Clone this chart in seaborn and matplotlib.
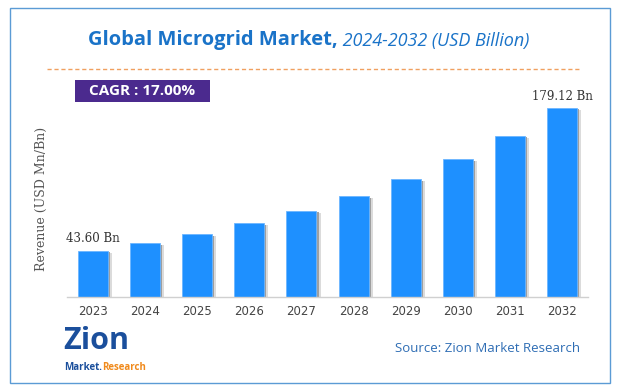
import matplotlib
matplotlib.use("Agg")
import matplotlib.pyplot as plt
import matplotlib.patheffects as pe
from matplotlib.patches import Rectangle
from matplotlib.lines import Line2D
import seaborn as sns

# data
years = ["2023", "2024", "2025", "2026", "2027", "2028", "2029", "2030", "2031", "2032"]
revenue = [43.60, 51.0, 59.6, 69.8, 81.6, 95.5, 111.7, 130.7, 153.1, 179.12]
labels = {0: "43.60 Bn", 9: "179.12 Bn"}

sns.set_style("white")
fig = plt.figure(figsize=(6.19, 3.92), dpi=100)
ax = fig.add_axes([0.1082, 0.2423, 0.8418, 0.5026])

sns.barplot(x=years, y=revenue, color="#1e90ff", saturation=1, width=0.575, ax=ax)

shadow = [pe.SimplePatchShadow(offset=(1.5, -1), shadow_rgbFace="#666666", alpha=0.6),
          pe.SimplePatchShadow(offset=(3, -1.5), shadow_rgbFace="#999999", alpha=0.35),
          pe.Normal()]
for bar in ax.patches:
    bar.set_path_effects(shadow)
    bar.set_edgecolor("#6cb6ff")
    bar.set_linewidth(0.6)

for i, txt in labels.items():
    ax.annotate(txt, (i, revenue[i]), xytext=(0, 4), textcoords="offset points",
                ha="center", va="bottom", family="DejaVu Serif", fontsize=8.5,
                color="#333333", annotation_clip=False)

ax.set_xlim(-0.5, 9.5)
ax.set_ylim(0, 186.8)
ax.set_yticks([])
ax.set_xlabel("")
ax.set_ylabel("Revenue (USD Mn/Bn)", family="DejaVu Serif", fontsize=9, color="#555555", labelpad=14)
ax.tick_params(axis="x", length=0, labelsize=8.5, labelcolor="#444444", pad=6)
for s in ["top", "right", "left"]:
    ax.spines[s].set_visible(False)
ax.spines["bottom"].set_color("#d0d0d0")
ax.spines["bottom"].set_linewidth(1)
ax.patch.set_alpha(0)

# frame around whole graphic
fig.patches.append(Rectangle((10 / 619, 1 - 383 / 392), 600 / 619, 375 / 392, transform=fig.transFigure,
                             fill=False, edgecolor="#5b9bd5", linewidth=1))

# title in two styles
t1 = fig.text(88 / 619, 1 - 40 / 392, "Global Microgrid Market,", family="Open Sans", fontweight="bold",
              fontsize=14.5, color="#1a73c8", ha="left", va="center")
ax.annotate(" 2024-2032 (USD Billion)", xy=(1, 0), xycoords=t1, ha="left", va="bottom",
            family="Open Sans", style="italic", fontsize=13, color="#1a73c8")

fig.lines.append(Line2D([47 / 619, 580 / 619], [1 - 69 / 392] * 2, transform=fig.transFigure,
                        color="#f0a060", linestyle=(0, (3, 2)), linewidth=1))

# CAGR box
fig.patches.append(Rectangle((75 / 619, 1 - 102 / 392), 135 / 619, 22 / 392, transform=fig.transFigure,
                             facecolor="#4b2a8e", edgecolor="none"))
fig.text(142 / 619, 1 - 91 / 392, "CAGR : 17.00%", family="Open Sans", fontweight="bold",
         fontsize=11, color="white", ha="center", va="center")

# logo as text
fig.text(63 / 619, 1 - 349 / 392, "Zion", family="Open Sans", fontweight="bold", fontsize=22,
         color="#1b4f9c", ha="left", va="baseline")
m = fig.text(64 / 619, 1 - 370 / 392, "Market.", family="Open Sans", fontweight="bold", fontsize=7,
             color="#1b4f9c", ha="left", va="baseline")
ax.annotate("Research", xy=(1, 0), xycoords=m, ha="left", va="bottom", family="Open Sans",
            fontweight="bold", fontsize=7, color="#f08a1c")

fig.text(580 / 619, 1 - 348 / 392, "Source: Zion Market Research", family="Open Sans", fontsize=9.5,
         color="#2e6db4", ha="right", va="center")

fig.savefig("out.png", dpi=100, facecolor="white")
